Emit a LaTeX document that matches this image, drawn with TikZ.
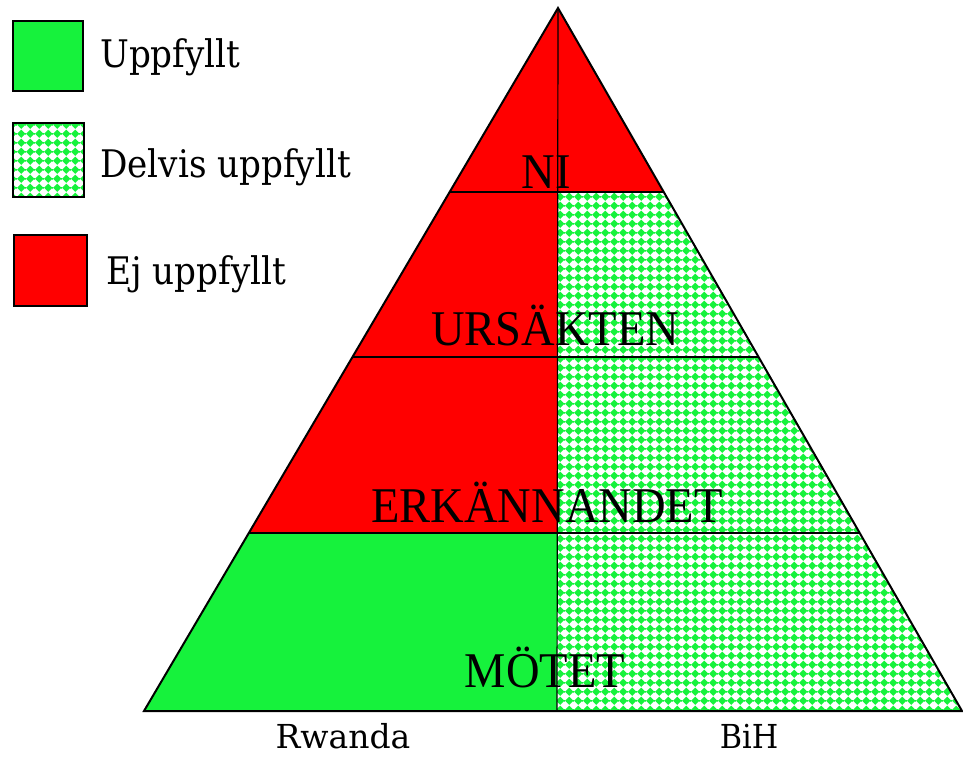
\documentclass[tikz,border=0pt]{standalone}
\usepackage{fontspec}
\usetikzlibrary{calc,patterns.meta}
\newfontfamily\labfont{Liberation Serif}
\newfontfamily\legfont{DejaVu Serif}
\definecolor{okgreen}{RGB}{22,242,60}
\definecolor{nored}{RGB}{255,0,0}

% green diamonds on a white ground ("partly met")
\tikzdeclarepattern{
  name=gdiamonds,
  type=colored,
  bottom left={(0pt,0pt)},
  top right={(8.7pt,8.7pt)},
  tile size={(8.7pt,8.7pt)},
  code={
    \fill[okgreen] (4.35pt,0.1pt) -- (8.6pt,4.35pt) -- (4.35pt,8.6pt) -- (0.1pt,4.35pt) -- cycle;
  }
}

\tikzset{
  level/.style={font=\labfont\fontsize{50}{56}\selectfont, anchor=base, inner sep=0pt},
  legtext/.style={font=\legfont\fontsize{38}{43}\selectfont, anchor=base west, inner sep=0pt},
  foot/.style={font=\legfont\fontsize{33}{38}\selectfont, anchor=base, inner sep=0pt},
  legbox/.style={draw=black, line width=2pt},
  partial/.style={fill=white, postaction={pattern=gdiamonds}},
  outline/.style={draw=black, line width=2pt, line join=miter},
  divider/.style={draw=black, line width=1.2pt},
}

\begin{document}
\begin{tikzpicture}[x=1pt, y=-1pt]
  \useasboundingbox (0,0) rectangle (963,757);

  % corners of the pyramid and its centre line
  \coordinate (A) at (558,8);
  \coordinate (L) at (144,711);
  \coordinate (R) at (962,711);
  \coordinate (C) at (557,711);

  % level boundaries as fractions of the height
  \foreach \t/\n in {0.2617/1, 0.4964/2, 0.7468/3} {
    \coordinate (L\n) at ($(A)!\t!(L)$);
    \coordinate (R\n) at ($(A)!\t!(R)$);
    \coordinate (M\n) at ($(A)!\t!(C)$);
  }

  % fills
  \fill[nored] (A) -- (L3) -- (M3) -- cycle;
  \fill[nored] (A) -- (M1) -- (R1) -- cycle;
  \fill[okgreen] (L3) -- (L) -- (C) -- (M3) -- cycle;
  \path[partial] (M1) -- (R1) -- (R) -- (C) -- cycle;

  % lines
  \draw[divider] (A) -- (C);
  \draw[divider] (L1) -- (R1);
  \draw[divider] (L2) -- (R2);
  \draw[divider] (L3) -- (R3);
  \draw[outline] (A) -- (L) -- (R) -- cycle;

  % level names
  \node[level] (ni)  at (546,188) {\scalebox{0.93}[1]{NI}};
  \node[level] (urs) at (555,345) {\scalebox{0.93}[1]{URSÄKTEN}};
  \node[level] (erk) at (547,522) {\scalebox{0.93}[1]{ERKÄNNANDET}};
  \node[level] (mot) at (545,687) {\scalebox{0.93}[1]{MÖTET}};

  % country labels
  \node[foot] (rw)  at (343,748) {\scalebox{1.0}[1]{Rwanda}};
  \node[foot] (bih) at (749,748) {\scalebox{0.92}[1]{BiH}};

  % legend
  \filldraw[legbox, fill=okgreen] (13,21) rectangle (83,91);
  \path[partial] (13,123) rectangle (84,197);
  \draw[legbox] (13,123) rectangle (84,197);
  \filldraw[legbox, fill=nored] (14,235) rectangle (87,306);

  \node[legtext] (l1) at (100,68)  {\scalebox{0.9}[1]{Uppfyllt}};
  \node[legtext] (l2) at (100,177) {\scalebox{0.9}[1]{Delvis uppfyllt}};
  \node[legtext] (l3) at (106,284) {\scalebox{0.9}[1]{Ej uppfyllt}};
\end{tikzpicture}
\end{document}
